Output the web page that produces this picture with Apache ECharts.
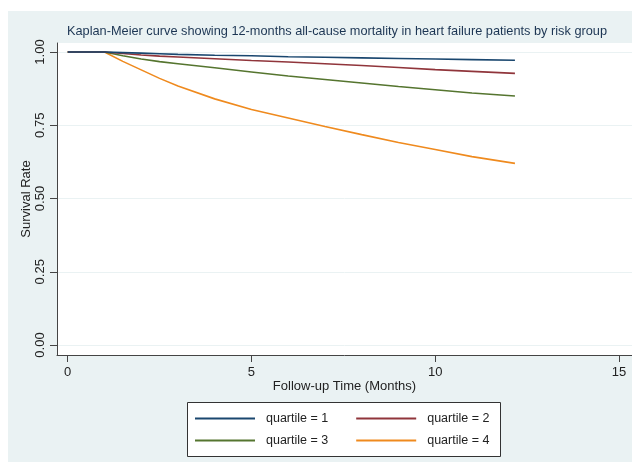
<!DOCTYPE html>
<html>
<head>
<meta charset="utf-8">
<script src="https://cdn.jsdelivr.net/npm/echarts@6/dist/echarts.min.js"></script>
<style>
html,body{margin:0;padding:0;background:#fff;}
#c{width:632px;height:462px;}
</style>
</head>
<body>
<div id="c"></div>
<script>
var timePoints = [0, 1, 1.5, 2, 2.5, 3, 4, 5, 6, 7, 8, 9, 10, 11, 12.17];
var quartile1 = [1, 1, 0.998, 0.996, 0.994, 0.992, 0.989, 0.987, 0.984, 0.982, 0.980, 0.978, 0.976, 0.974, 0.972];
var quartile2 = [1, 1, 0.995, 0.990, 0.986, 0.983, 0.977, 0.971, 0.966, 0.960, 0.954, 0.947, 0.940, 0.934, 0.927];
var quartile3 = [1, 1, 0.987, 0.976, 0.967, 0.960, 0.946, 0.932, 0.918, 0.906, 0.894, 0.882, 0.871, 0.860, 0.850];
var quartile4 = [1, 1, 0.968, 0.939, 0.910, 0.884, 0.840, 0.804, 0.775, 0.746, 0.718, 0.691, 0.667, 0.643, 0.620];
var seriesNames = ['quartile = 1', 'quartile = 2', 'quartile = 3', 'quartile = 4'];
var xTicks = [0, 5, 10, 15];
var yTicks = [0, 0.25, 0.5, 0.75, 1];
var titleText = 'Kaplan-Meier curve showing 12-months all-cause mortality in heart failure patients by risk group';

var colors = ['#1a476f', '#90353b', '#55752f', '#ef8a1e'];
var allValues = [quartile1, quartile2, quartile3, quartile4];

function pairs(vals) {
  return timePoints.map(function (t, i) { return [t, vals[i]]; });
}

var chart = echarts.init(document.getElementById('c'), null, {renderer: 'canvas'});
var font = 'Liberation Sans, Arial, sans-serif';
var option = {
  animation: false,
  backgroundColor: '#ffffff',
  textStyle: {fontFamily: font},
  graphic: [{
    type: 'rect', z: -10, silent: true,
    shape: {x: 8, y: 11, width: 624, height: 451},
    style: {fill: '#eaf2f3'}
  }, {
    type: 'rect', z: 0, silent: true,
    shape: {x: 187.5, y: 402.5, width: 313, height: 54},
    style: {fill: '#ffffff', stroke: '#333', lineWidth: 1}
  }],
  title: {
    text: titleText,
    left: 67, top: 25,
    padding: 0,
    textStyle: {fontSize: 12.75, fontWeight: 'normal', color: '#1c3553', fontFamily: font}
  },
  legend: [{
    data: seriesNames.slice(0, 2),
    left: 195, top: 412, padding: 0,
    icon: 'rect', itemWidth: 60, itemHeight: 2, itemGap: 28,
    textStyle: {fontSize: 12.5, color: '#222', padding: [0, 0, 0, 6], fontFamily: font},
    z: 5
  }, {
    data: seriesNames.slice(2, 4),
    left: 195, top: 434, padding: 0,
    icon: 'rect', itemWidth: 60, itemHeight: 2, itemGap: 28,
    textStyle: {fontSize: 12.5, color: '#222', padding: [0, 0, 0, 6], fontFamily: font},
    z: 5
  }],
  grid: {
    left: 57, top: 43, right: 0, bottom: 107,
    show: true, backgroundColor: '#ffffff', borderWidth: 0,
    containLabel: false
  },
  xAxis: {
    type: 'value',
    min: -0.291, max: 15.355,
    name: 'Follow-up Time (Months)',
    nameLocation: 'middle', nameGap: 25, nameMoveOverlap: false,
    nameTextStyle: {fontSize: 13, color: '#222', fontFamily: font},
    axisLine: {show: true, onZero: false, lineStyle: {color: '#444', width: 1}},
    axisTick: {show: true, length: 7, customValues: xTicks, lineStyle: {color: '#444'}},
    axisLabel: {customValues: xTicks, margin: 11, fontSize: 13, color: '#222', fontFamily: font},
    splitLine: {show: false}
  },
  yAxis: {
    type: 'value',
    min: -0.0341, max: 1.0307,
    name: 'Survival Rate',
    nameLocation: 'middle', nameGap: 24, nameMoveOverlap: false,
    nameTextStyle: {fontSize: 13, color: '#222', fontFamily: font},
    axisLine: {show: true, onZero: false, lineStyle: {color: '#444', width: 1}},
    axisTick: {show: true, length: 7, customValues: yTicks, lineStyle: {color: '#444'}},
    axisLabel: {
      customValues: yTicks, rotate: 90, margin: 10, fontSize: 13, color: '#222', fontFamily: font,
      formatter: function (v) { return v.toFixed(2); }
    },
    splitLine: {show: true, lineStyle: {color: '#eaf2f3', width: 1}}
  },
  series: allValues.map(function (vals, i) {
    return {
      name: seriesNames[i],
      type: 'line',
      data: pairs(vals),
      showSymbol: false,
      symbol: 'none',
      color: colors[i],
      lineStyle: {color: colors[i], width: 1.6},
      z: 10 - i
    };
  })
};
chart.setOption(option);
</script>
</body>
</html>
